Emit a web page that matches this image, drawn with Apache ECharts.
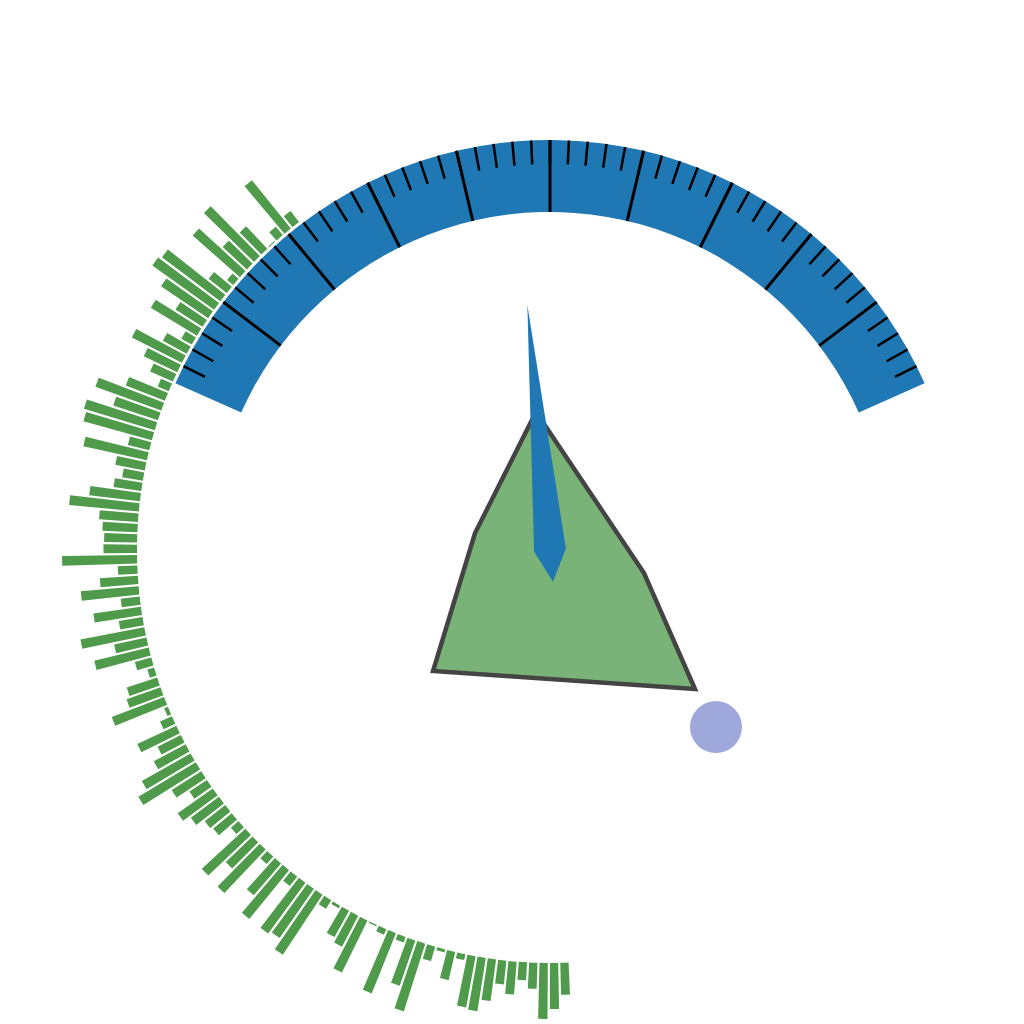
<!DOCTYPE html>
<html>
<head>
<meta charset="utf-8">
<title>gauge + polar bars</title>
<style>
  html, body { margin: 0; padding: 0; background: #fff; }
  #main { width: 1024px; height: 1024px; }
</style>
</head>
<body>
<div id="main"></div>
<script src="https://cdn.jsdelivr.net/npm/echarts@6/dist/echarts.min.js"></script>
<script>
// gauge
var gaugeValue = 46;
var gaugeStart = 156, gaugeEnd = 24, gaugeSplits = 10, gaugeSubSplits = 5;

// radial bars, read from the top end of the arc round to the bottom
var barValues = [
  14, 62, 11, 1, 31, 70, 33, 63, 8, 23,
  73, 76, 57, 32, 54, 12, 27, 56, 37, 25,
  12, 42, 70, 47, 74, 71, 22, 65, 30, 21,
  28, 51, 70, 39, 35, 33, 33.5, 75, 19.5, 38,
  58, 19, 48, 24, 65, 33, 56, 17, 7, 32,
  36, 56, 4, 13, 43, 26, 36, 56, 67, 35,
  21, 43, 35, 26, 24, 10, 59, 37, 60, 10,
  42, 63, 12, 63, 60, 72, 10, 3, 30, 35,
  58, 1.5, 6, 65, 6, 48, 71, 15, 3, 29,
  6, 52, 54, 42, 24, 33, 18, 26, 56, 46,
  32
];
// the angle axis runs round the whole circle, the bars only fill part of it
var angleCats = [];
for (var i = 0; i < 250; i++) angleCats.push('c' + i);

// polygon corners and the single point
var shapeX = [5.234, 4.639, 4.229, 6.787, 6.289];
var shapeY = [5.977, 4.795, 3.447, 3.271, 4.404];
var dotX = [6.992];
var dotY = [2.900];

var chart = echarts.init(document.getElementById('main'));

// the reference has no tick marks on the two ends of the arc,
// so the ticks are drawn by two extra gauges that stop one step short
var majorStep = (gaugeStart - gaugeEnd) / gaugeSplits;
var minorStep = majorStep / gaugeSubSplits;
var clear = [[1, 'rgba(0,0,0,0)']];

function tickGauge(start, end, n, len, w) {
  return {
    type: 'gauge',
    center: [550, 550],
    radius: 410,
    startAngle: start,
    endAngle: end,
    splitNumber: n,
    axisLine: { lineStyle: { width: 72, color: clear } },
    splitLine: { distance: -72, length: len, lineStyle: { color: '#000', width: w } },
    axisTick: { show: false },
    axisLabel: { show: false },
    pointer: { show: false },
    anchor: { show: false },
    title: { show: false },
    detail: { show: false },
    data: []
  };
}

var option = {
  animation: false,
  backgroundColor: '#fff',
  grid: { left: 0, right: 0, top: 0, bottom: 0 },
  xAxis: { type: 'value', min: 0, max: 10, show: false },
  yAxis: { type: 'value', min: 0, max: 10, show: false },
  polar: { center: [550, 550], radius: [413, 493] },
  angleAxis: {
    type: 'category',
    data: angleCats,
    startAngle: 127.28,
    clockwise: false,
    show: false
  },
  radiusAxis: { type: 'value', min: 0, max: 80, show: false },
  series: [
    {
      type: 'custom',
      coordinateSystem: 'cartesian2d',
      data: [0],
      renderItem: function (params, api) {
        var pts = [];
        for (var k = 0; k < shapeX.length; k++) {
          pts.push(api.coord([shapeX[k], shapeY[k]]));
        }
        return {
          type: 'polygon',
          shape: { points: pts },
          style: { fill: '#7ab377', stroke: '#444444', lineWidth: 4.5, lineJoin: 'miter' }
        };
      }
    },
    {
      type: 'bar',
      coordinateSystem: 'polar',
      data: barValues,
      itemStyle: { color: '#4f9a4b' }
    },
    {
      type: 'scatter',
      data: dotX.map(function (x, k) { return [x, dotY[k]]; }),
      symbolSize: 52,
      itemStyle: { color: '#9fa8da', opacity: 1 }
    },
    {
      type: 'gauge',
      center: [550, 550],
      radius: 410,
      startAngle: gaugeStart,
      endAngle: gaugeEnd,
      min: 0,
      max: 100,
      splitNumber: gaugeSplits,
      axisLine: { lineStyle: { width: 72, color: [[1, '#1f77b4']] } },
      splitLine: { show: false },
      axisTick: { show: false },
      axisLabel: { show: false },
      progress: { show: false },
      anchor: { show: false },
      pointer: { show: false },
      title: { show: false },
      detail: { show: false },
      data: [{ value: gaugeValue }]
    },
    // minor ticks
    tickGauge(gaugeStart - minorStep, gaugeEnd + minorStep, gaugeSplits * gaugeSubSplits - 2, 24, 2.5),
    // major split lines
    tickGauge(gaugeStart - majorStep, gaugeEnd + majorStep, gaugeSplits - 2, 72, 3),
    // pointer on top
    {
      type: 'gauge',
      center: [550, 550],
      radius: 410,
      startAngle: gaugeStart,
      endAngle: gaugeEnd,
      min: 0,
      max: 100,
      axisLine: { lineStyle: { width: 72, color: clear } },
      splitLine: { show: false },
      axisTick: { show: false },
      axisLabel: { show: false },
      anchor: { show: false },
      pointer: { width: 16, length: '60%', itemStyle: { color: '#1f77b4' } },
      title: { show: false },
      detail: { show: false },
      data: [{ value: gaugeValue }]
    }
  ]
};

chart.setOption(option);
</script>
</body>
</html>
